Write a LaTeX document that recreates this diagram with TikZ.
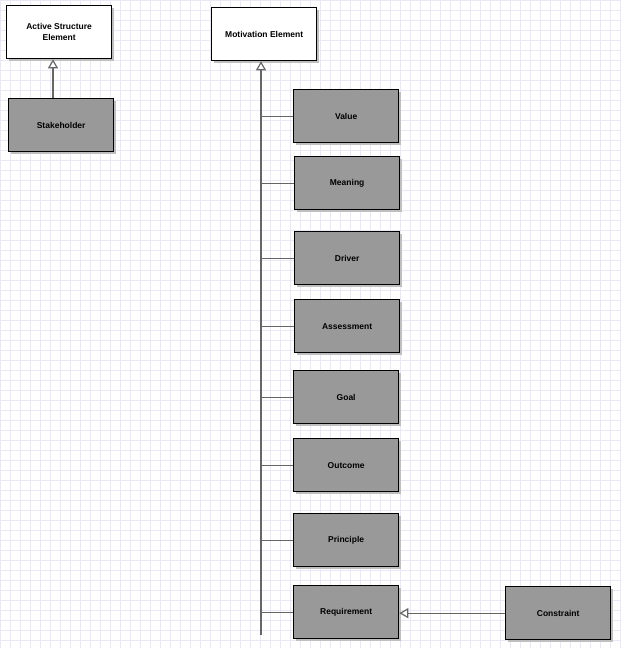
\documentclass[tikz,border=0pt]{standalone}
\usepackage{fontspec}
\setmainfont{Liberation Sans}
\usetikzlibrary{arrows.meta,shadows}
\definecolor{gridblue}{RGB}{232,232,246}
\definecolor{elemgray}{RGB}{153,153,153}
\tikzset{
  elem/.style={draw, line width=1.3pt, minimum width=105pt, minimum height=53pt, anchor=north west,
    font=\fontsize{8.5}{11}\selectfont\bfseries, align=center,
    drop shadow={shadow xshift=2pt, shadow yshift=-2pt, fill=black!25, opacity=1}},
  abstract/.style={elem, fill=white},
  concrete/.style={elem, fill=elemgray},
  spec/.style={draw=black!60, line width=1.2pt, -{Triangle[open, fill=white, length=9pt, width=10pt]}},
  link/.style={draw=black!60, line width=1.2pt}
}
\begin{document}
\begin{tikzpicture}[x=1pt, y=-1pt]
  \useasboundingbox (0,0) rectangle (621,648);
  \draw[gridblue, step=10pt] (0,0) grid (621,648);
  \node[abstract] (ase) at (6,5) {Active Structure\\Element};
  \node[concrete] (stake) at (8,98) {Stakeholder};
  \node[abstract] (mot) at (211,7) {Motivation Element};
  \node[concrete] (value) at (293,89) {Value};
  \node[concrete] (meaning) at (294,156) {Meaning};
  \node[concrete] (driver) at (294,231) {Driver};
  \node[concrete] (assess) at (294,299) {Assessment};
  \node[concrete] (goal) at (293,370) {Goal};
  \node[concrete] (outcome) at (293,438) {Outcome};
  \node[concrete] (principle) at (293,513) {Principle};
  \node[concrete] (req) at (293,585) {Requirement};
  \node[concrete] (constraint) at (505,586) {Constraint};
  \coordinate (trunk) at (261,635);
  \draw[spec] (stake.north -| 53,0) -- (ase.south -| 53,0);
  \draw[spec] (trunk) -- (trunk |- mot.south);
  \foreach \n in {value,meaning,driver,assess,goal,outcome,principle,req}
    \draw[link] (\n.west -| trunk) -- (\n.west);
  \draw[spec] (constraint.west) -- (req.east |- constraint.west);
\end{tikzpicture}
\end{document}
